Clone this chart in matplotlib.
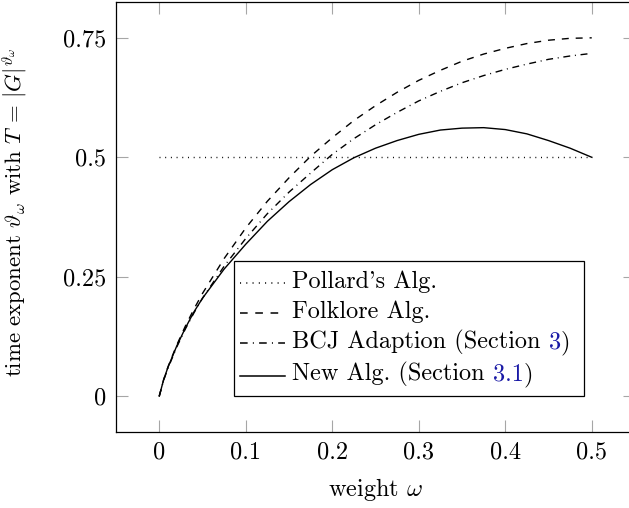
import matplotlib
matplotlib.use("Agg")
import matplotlib.pyplot as plt
from matplotlib.lines import Line2D
from matplotlib.offsetbox import TextArea, DrawingArea, HPacker, VPacker, AnchoredOffsetbox

plt.rcParams['mathtext.fontset'] = 'cm'
plt.rcParams['font.family'] = ['cmr10', 'DejaVu Serif']
plt.rcParams['axes.unicode_minus'] = False

# ---- data ----
w_grid = [0, 0.005, 0.01, 0.02, 0.03, 0.04, 0.05, 0.075, 0.1, 0.125, 0.15, 0.175,
          0.2, 0.225, 0.25, 0.275, 0.3, 0.325, 0.35, 0.375, 0.4, 0.425, 0.45, 0.475, 0.5]
pollard = [0.5, 0.5]
pollard_w = [0, 0.5]
folklore = [0, 0.034, 0.061, 0.106, 0.146, 0.182, 0.215, 0.288, 0.352, 0.408, 0.457, 0.502,
            0.541, 0.577, 0.608, 0.636, 0.661, 0.682, 0.701, 0.716, 0.728, 0.738, 0.745, 0.749, 0.75]
bcj = [0, 0.033, 0.058, 0.102, 0.140, 0.174, 0.205, 0.272, 0.330, 0.382, 0.427, 0.467,
       0.506, 0.539, 0.568, 0.594, 0.618, 0.638, 0.656, 0.671, 0.684, 0.695, 0.705, 0.712, 0.7175]
new_alg = [0, 0.034, 0.060, 0.104, 0.142, 0.176, 0.205, 0.266, 0.318, 0.366, 0.407, 0.443,
           0.474, 0.499, 0.519, 0.535, 0.548, 0.557, 0.561, 0.562, 0.558, 0.549, 0.535, 0.519, 0.5]
xticks = [0, 0.1, 0.2, 0.3, 0.4, 0.5]
xticklabels = ['0', '0.1', '0.2', '0.3', '0.4', '0.5']
yticks = [0, 0.25, 0.5, 0.75]
yticklabels = ['0', '0.25', '0.5', '0.75']

FS = 17.5
fig = plt.figure(figsize=(6.29, 5.08), dpi=100)
ax = fig.add_axes([116/629, 76/508, (635-116)/629, 430/508])

dot = (0.7, 3.4)
dash = (5, 5)
dashdot = (5, 3.4, 0.7, 3.4)
lw = 1.0
ax.plot(pollard_w, pollard, color='k', lw=lw, dashes=dot)
ax.plot(w_grid, folklore, color='k', lw=lw, dashes=dash)
ax.plot(w_grid, bcj, color='k', lw=lw, dashes=dashdot)
ax.plot(w_grid, new_alg, color='k', lw=lw)

ax.set_xlim(-0.05, 0.55)
ax.set_ylim(-0.075, 0.825)
ax.set_xticks(xticks)
ax.set_xticklabels(xticklabels)
ax.set_yticks(yticks)
ax.set_yticklabels(yticklabels)
ax.tick_params(direction='in', length=8.5, width=0.8, color='#a6a6a6',
               top=True, right=True, labelsize=FS, pad=7)
for s in ax.spines.values():
    s.set_linewidth(0.9)
ax.set_xlabel(r'weight $\omega$', fontsize=FS, labelpad=9)
ax.set_ylabel(r'time exponent $\vartheta_\omega$ with $T\,=\,|G|^{\vartheta_\omega}$',
              fontsize=16.4)
ax.yaxis.set_label_coords(-0.168, 0.51)

# ---- custom legend with coloured references ----
blue = '#1a1aa6'
entries = [
    (dot, [("Pollard's Alg.", 'k')]),
    (dash, [("Folklore Alg.", 'k')]),
    (dashdot, [("BCJ Adaption (Section ", 'k'), ("3", blue), (")", 'k')]),
    (None, [("New Alg. (Section ", 'k'), ("3.1", blue), (")", 'k')]),
]
rows = []
for ds, parts in entries:
    da = DrawingArea(32.5, 12, 0, 0)
    if ds is None:
        ln = Line2D([0, 32.5], [5, 5], color='k', lw=1.1)
    else:
        ln = Line2D([0, 32.5], [5, 5], color='k', lw=1.1, dashes=ds)
    da.add_artist(ln)
    tas = [TextArea(t, textprops=dict(color=c, fontsize=FS)) for t, c in parts]
    txt = HPacker(children=tas, pad=0, sep=0, align='baseline')
    spacer = DrawingArea(0.5, 1, 0, 0)
    rows.append(HPacker(children=[da, txt, spacer], pad=0, sep=5, align='center'))
box = VPacker(children=rows, pad=0, sep=5, align='left')
outer = VPacker(children=[DrawingArea(1, 2.5, 0, 0), box, DrawingArea(1, 2.5, 0, 0)],
                pad=0, sep=0, align='left')
anch = AnchoredOffsetbox(loc='lower left', child=outer, pad=0.42, borderpad=0,
                         bbox_to_anchor=(0.2274, 0.0837), bbox_transform=ax.transAxes,
                         frameon=True)
anch.patch.set_edgecolor('k')
anch.patch.set_linewidth(0.9)
anch.patch.set_boxstyle('square', pad=0)
ax.add_artist(anch)

fig.savefig('out.png', dpi=100)
